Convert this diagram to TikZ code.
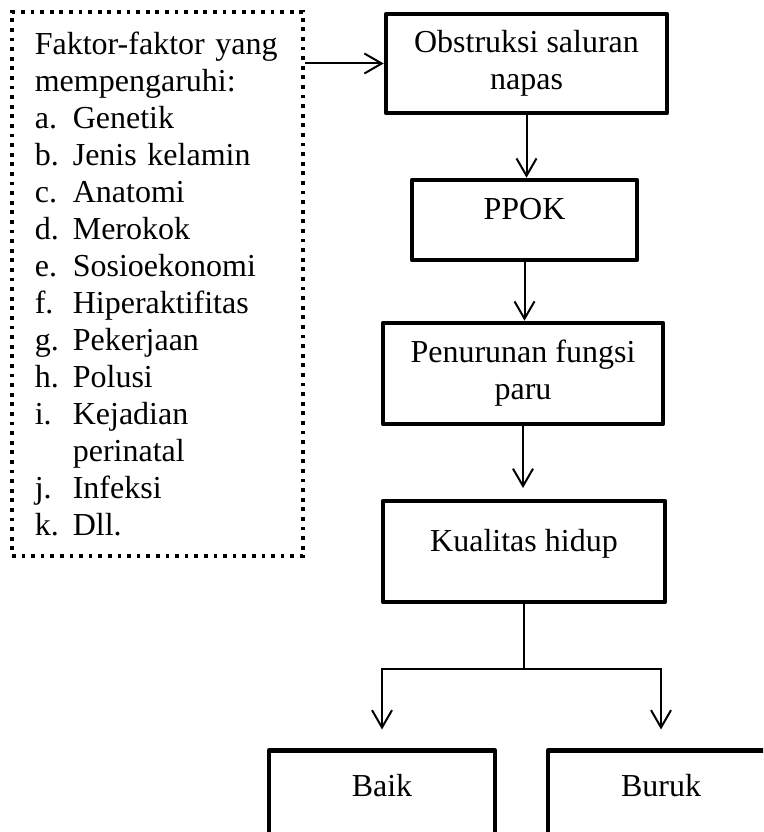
\documentclass[tikz,border=0pt]{standalone}
\usepackage{fontspec}
\setmainfont{Liberation Serif}
\usetikzlibrary{arrows.meta}
\newcommand{\itemlbl}[1]{\makebox[14.25pt][l]{#1}}

\begin{document}
\begin{tikzpicture}[x=0.375pt, y=-0.375pt,
        every node/.style={font=\fontsize{12}{13.9}\selectfont},
        box/.style={draw, line width=1.7pt, line join=round, align=center, inner sep=2pt},
        oneline/.style={text depth=8pt},
        conn/.style={line width=0.75pt, -{Straight Barb[length=6.5pt, width=7.5pt, line width=0.75pt]}}]
      \useasboundingbox (0,0) rectangle (763,832);
      \clip (0,0) rectangle (763,832);
      \node[draw, line width=1.4pt, dash pattern=on 1.4pt off 2.2pt, text width=92pt,
            align=left, inner xsep=8.6pt, minimum height=204pt] (fak) at (157.5,284)
            {Faktor-faktor yang\\ mempengaruhi:\\ \itemlbl{a.}Genetik\\ \itemlbl{b.}Jenis kelamin\\
             \itemlbl{c.}Anatomi\\ \itemlbl{d.}Merokok\\ \itemlbl{e.}Sosioekonomi\\
             \itemlbl{f.}Hiperaktifitas\\ \itemlbl{g.}Pekerjaan\\ \itemlbl{h.}Polusi\\
             \itemlbl{i.}Kejadian\\ \itemlbl{}perinatal\\ \itemlbl{j.}Infeksi\\ \itemlbl{k.}Dll.};
      \node[box, minimum width=105.4pt, minimum height=37.1pt] (obs) at (526.5,63.5) {Obstruksi saluran\\napas};
      \node[box, oneline, minimum width=84.4pt, minimum height=30pt] (ppok) at (524.5,220) {PPOK};
      \node[box, minimum width=105pt, minimum height=37.9pt] (pen) at (523,373.5) {Penurunan fungsi\\paru};
      \node[box, oneline, minimum width=105.8pt, minimum height=37.9pt] (kual) at (524,551.5) {Kualitas hidup};
      \node[box, oneline, minimum width=84.8pt, minimum height=34pt] (baik) at (382,796) {Baik};
      \node[box, oneline, minimum width=84.8pt, minimum height=34pt] (buruk) at (661,796) {Buruk};
      \draw[conn] (fak.east |- obs.west) -- (obs.west);
      \draw[conn] (obs.south) -- (obs.south |- ppok.north);
      \draw[conn] (ppok.south) -- (ppok.south |- pen.north);
      \draw[conn, shorten >=4pt] (pen.south) -- (pen.south |- kual.north);
      \draw[line width=0.75pt] (kual.south) -- ++(0,65) coordinate (split);
      \draw[conn, shorten >=7.1pt] (split) -| (baik.north);
      \draw[conn, shorten >=7.1pt] (split) -| (buruk.north);
    \end{tikzpicture}
\end{document}
